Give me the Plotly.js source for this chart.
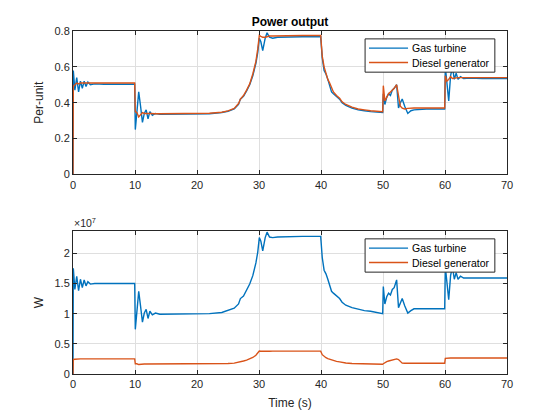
<!DOCTYPE html>
<html>
<head>
<meta charset="utf-8">
<script src="https://cdn.plot.ly/plotly-3.0.1.min.js"></script>
<style>html,body{margin:0;padding:0;background:#fff;}#chart{width:560px;height:420px;}</style>
</head>
<body>
<div id="chart"></div>
<script>
var time = [0,0.05,0.3,0.6,0.9,1.2,1.5,1.8,2.1,2.4,2.8,3.5,5,7,9.95,
10.05,10.3,10.6,10.9,11.2,11.5,11.8,12.1,12.4,12.8,13.3,14,16,18,20,22,24,25,26,26.7,27,27.5,28,28.5,29,29.5,29.8,
30.05,30.3,30.6,31,31.3,31.7,32.2,33,35,37,39.95,
40.2,40.5,40.8,41.1,41.4,41.7,42,42.5,43,43.4,44,45,46,47,48,49.95,
50.05,50.3,50.6,50.9,51.2,51.5,51.8,52.2,52.5,52.8,53.1,53.5,54,54.5,55,57,59.95,
60.05,60.3,60.6,60.9,61.2,61.5,61.8,62.1,62.5,63,64,66,68,70];

var gasPU = [0,0.58,0.47,0.54,0.46,0.52,0.48,0.52,0.49,0.515,0.5,0.505,0.503,0.503,0.503,
0.25,0.33,0.46,0.38,0.29,0.34,0.36,0.31,0.35,0.33,0.34,0.335,0.335,0.335,0.336,0.338,0.345,0.352,0.365,0.39,0.42,0.435,0.465,0.5,0.55,0.62,0.68,
0.76,0.74,0.69,0.76,0.79,0.765,0.76,0.765,0.768,0.768,0.768,
0.65,0.58,0.56,0.53,0.5,0.46,0.45,0.435,0.42,0.4,0.385,0.37,0.36,0.355,0.35,0.345,
0.45,0.39,0.43,0.45,0.44,0.47,0.48,0.5,0.37,0.4,0.42,0.38,0.34,0.355,0.36,0.365,0.365,
0.6,0.5,0.41,0.55,0.6,0.53,0.565,0.53,0.545,0.535,0.537,0.535,0.535,0.535];

var dieselPU = [0,0.49,0.5,0.51,0.505,0.51,0.51,0.51,0.51,0.51,0.51,0.51,0.51,0.51,0.51,
0.35,0.345,0.32,0.33,0.345,0.34,0.338,0.34,0.34,0.338,0.338,0.338,0.338,0.338,0.339,0.341,0.347,0.354,0.368,0.395,0.42,0.44,0.47,0.505,0.56,0.63,0.7,
0.775,0.77,0.765,0.765,0.77,0.772,0.772,0.773,0.775,0.775,0.775,
0.66,0.6,0.56,0.53,0.51,0.48,0.46,0.44,0.425,0.405,0.39,0.375,0.365,0.36,0.355,0.35,
0.495,0.41,0.43,0.45,0.46,0.47,0.48,0.5,0.45,0.38,0.37,0.365,0.368,0.37,0.37,0.37,0.37,
0.55,0.52,0.53,0.545,0.535,0.537,0.54,0.54,0.54,0.54,0.54,0.54,0.54,0.54];

// Watts, in units of 1e7
var gasW = [0,1.75,1.4,1.62,1.38,1.57,1.43,1.56,1.46,1.53,1.49,1.5,1.5,1.5,1.5,
0.74,0.98,1.37,1.12,0.86,1.01,1.07,0.92,1.04,0.98,1.01,0.99,0.99,0.99,1.0,1.0,1.02,1.05,1.09,1.16,1.25,1.29,1.38,1.49,1.63,1.84,2.02,
2.26,2.2,2.04,2.26,2.35,2.27,2.26,2.27,2.28,2.28,2.28,
1.93,1.72,1.66,1.57,1.48,1.37,1.34,1.29,1.25,1.19,1.14,1.1,1.07,1.05,1.04,1.0,
1.45,1.16,1.28,1.34,1.31,1.4,1.43,1.56,1.1,1.19,1.25,1.13,1.01,1.05,1.08,1.08,1.08,
1.78,1.48,1.23,1.63,1.78,1.57,1.68,1.57,1.62,1.59,1.59,1.59,1.59,1.59];

var dieselW = [0,0.24,0.245,0.25,0.248,0.25,0.25,0.25,0.25,0.25,0.25,0.25,0.25,0.25,0.25,
0.17,0.17,0.157,0.162,0.168,0.166,0.165,0.165,0.165,0.165,0.165,0.165,0.165,0.165,0.166,0.167,0.17,0.173,0.18,0.193,0.205,0.215,0.23,0.247,0.274,0.31,0.343,
0.38,0.377,0.375,0.375,0.377,0.378,0.379,0.379,0.379,0.379,0.379,
0.32,0.29,0.27,0.255,0.245,0.23,0.22,0.21,0.2,0.19,0.182,0.175,0.17,0.167,0.165,0.162,
0.17,0.19,0.205,0.215,0.225,0.235,0.242,0.25,0.24,0.2,0.18,0.177,0.177,0.178,0.178,0.178,0.178,
0.26,0.265,0.262,0.265,0.265,0.265,0.265,0.265,0.265,0.265,0.265,0.265,0.265,0.265];

var seriesNames = ['Gas turbine', 'Diesel generator'];
var xTicks = [0,10,20,30,40,50,60,70];
var topTicks = [0,0.2,0.4,0.6,0.8];
var topTickText = ['0','0.2','0.4','0.6','0.8'];
var bottomTicks = [0,0.5,1,1.5,2];
var bottomTickText = ['0','0.5','1','1.5','2'];
var scaleExp = 7;

var SCALE = Math.pow(10, scaleExp);
var blue = '#0072BD', orange = '#D95319';
var colors = [blue, orange];
var axisColor = '#262626';
var gridColor = '#dfdfdf';
var fnt = {family: 'Liberation Sans, Arial, sans-serif', size: 11, color: axisColor};
var LW = 1.4;

var traces = [
  {x: time, y: gasPU, name: seriesNames[0], type: 'scatter', mode: 'lines', line: {color: blue, width: LW}, xaxis: 'x', yaxis: 'y'},
  {x: time, y: dieselPU, name: seriesNames[1], type: 'scatter', mode: 'lines', line: {color: orange, width: LW}, xaxis: 'x', yaxis: 'y'},
  {x: time, y: gasW.map(function(v){return v*SCALE;}), name: seriesNames[0], type: 'scatter', mode: 'lines', line: {color: blue, width: LW}, xaxis: 'x2', yaxis: 'y2'},
  {x: time, y: dieselW.map(function(v){return v*SCALE;}), name: seriesNames[1], type: 'scatter', mode: 'lines', line: {color: orange, width: LW}, xaxis: 'x2', yaxis: 'y2'}
];

function xax(anchor, withTitle) {
  var a = {
    domain: [0,1], anchor: anchor, range: [0,70], tickvals: xTicks, ticktext: xTicks.map(String),
    showgrid: true, gridcolor: gridColor, gridwidth: 1, zeroline: false,
    showline: true, linecolor: axisColor, linewidth: 1, mirror: 'allticks',
    ticks: 'inside', ticklen: 4, tickcolor: axisColor, tickfont: fnt
  };
  if (withTitle) a.title = {text: 'Time (s)', font: {family: fnt.family, size: 12, color: axisColor}, standoff: 9};
  return a;
}
function yax(anchor, dom, range, vals, text, title) {
  return {
    domain: dom, anchor: anchor, range: range, tickvals: vals, ticktext: text,
    showgrid: true, gridcolor: gridColor, gridwidth: 1, zeroline: false,
    showline: true, linecolor: axisColor, linewidth: 1, mirror: 'allticks',
    ticks: 'inside', ticklen: 4, tickcolor: axisColor, tickfont: fnt,
    title: {text: title, font: {family: fnt.family, size: 12, color: axisColor}, standoff: 8}
  };
}

// Legend boxes drawn as layout decorations (paper coordinates)
var shapes = [], annotations = [];
function addLegend(yTop, yBottom, rowYs) {
  shapes.push({type: 'rect', xref: 'paper', yref: 'paper', x0: 0.673, x1: 0.972, y0: yBottom, y1: yTop,
    line: {color: axisColor, width: 1}, fillcolor: '#ffffff', layer: 'above'});
  for (var i = 0; i < seriesNames.length; i++) {
    shapes.push({type: 'line', xref: 'paper', yref: 'paper', x0: 0.682, x1: 0.772, y0: rowYs[i], y1: rowYs[i],
      line: {color: colors[i], width: LW}, layer: 'above'});
    annotations.push({xref: 'paper', yref: 'paper', x: 0.776, y: rowYs[i], xanchor: 'left', yanchor: 'middle',
      text: seriesNames[i], showarrow: false, font: {family: fnt.family, size: 10.5, color: '#000'}});
  }
}
addLegend(0.977, 0.880, [0.950, 0.908]);
addLegend(0.394, 0.297, [0.367, 0.325]);

annotations.push({
  xref: 'paper', yref: 'paper', x: -0.002, y: 0.418, xanchor: 'left', yanchor: 'bottom',
  text: '\u00d710<sup>' + scaleExp + '</sup>', showarrow: false, font: {family: fnt.family, size: 10.5, color: axisColor}
});

var layout = {
  width: 560, height: 420,
  margin: {l: 73, r: 53, t: 31, b: 46},
  paper_bgcolor: '#ffffff', plot_bgcolor: '#ffffff',
  showlegend: false,
  title: {text: '<b>Power output</b>', font: {family: fnt.family, size: 12, color: '#000'},
    x: 0.5, xanchor: 'center', xref: 'paper', y: 0.948, yref: 'container', yanchor: 'middle'},
  xaxis: xax('y', false),
  yaxis: yax('x', [0.582, 1], [0, 0.8], topTicks, topTickText, 'Per-unit'),
  xaxis2: xax('y2', true),
  yaxis2: yax('x2', [0, 0.417], [0, 2.37*SCALE], bottomTicks.map(function(v){return v*SCALE;}), bottomTickText, 'W'),
  shapes: shapes,
  annotations: annotations
};

Plotly.newPlot('chart', traces, layout, {displayModeBar: false, staticPlot: true});
</script>
</body>
</html>
